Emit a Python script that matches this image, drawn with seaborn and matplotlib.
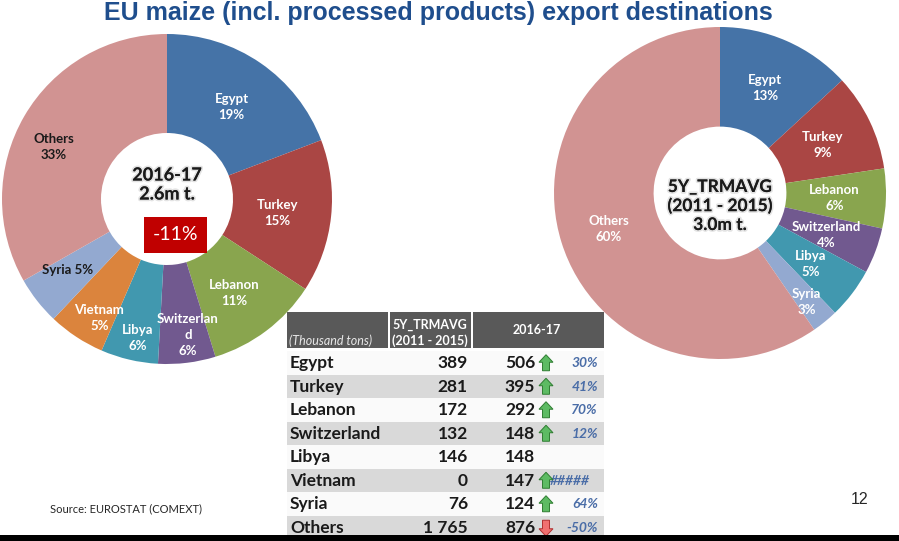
import numpy as np
import matplotlib
matplotlib.use("Agg")
import matplotlib.pyplot as plt
import matplotlib.patches as mpatches
import matplotlib.patheffects as pe
import seaborn as sns

# ---------------- data ----------------
countries = ["Egypt", "Turkey", "Lebanon", "Switzerland", "Libya", "Vietnam", "Syria", "Others"]
avg_2011_2015 = [389, 281, 172, 132, 146, 0, 76, 1765]       # thousand tons
season_2016_17 = [506, 395, 292, 148, 148, 147, 124, 876]    # thousand tons
share_2016_17 = [19, 15, 11, 6, 6, 5, 5, 33]                 # % labels as shown
share_avg = [13, 9, 6, 4, 5, 0, 3, 60]                       # % labels as shown
change_labels = ["30%", "41%", "70%", "12%", "", "#####", "64%", "-50%"]
change_dir = [1, 1, 1, 1, 0, 1, 1, -1]
left_names = ["Egypt", "Turkey", "Lebanon", "Switzerlan\nd", "Libya", "Vietnam", "Syria", "Others"]
title = "EU maize (incl. processed products) export destinations"

# ---------------- style ----------------
sns.set_theme(style="white")
plt.rcParams["font.family"] = ["Lato", "DejaVu Sans"]
colors = sns.color_palette(["#4573A7", "#AA4644", "#89A54E", "#71598F",
                            "#4198AF", "#DB843D", "#93A9D0", "#D19392"])

W, H = 899, 541
fig = plt.figure(figsize=(W / 100, H / 100), dpi=100)
fig.patch.set_facecolor("white")

def px_axes(cx, cy, r, z):
    ax = fig.add_axes([(cx - r) / W, (H - cy - r) / H, 2 * r / W, 2 * r / H], zorder=z)
    return ax

overlay = fig.add_axes([0, 0, 1, 1], zorder=5)
overlay.set_xlim(0, W)
overlay.set_ylim(H, 0)
overlay.axis("off")
overlay.patch.set_alpha(0)

glow = [pe.withStroke(linewidth=2.5, foreground=(0.5, 0.5, 0.5, 0.22))]

def donut(cx, cy, r, values, names, shares, seps, label_colors, nudges):
    ax = px_axes(cx, cy, r, 1)
    wedges, _ = ax.pie(values, colors=colors, startangle=90, counterclock=False,
                       radius=1.0, wedgeprops=dict(width=0.6, linewidth=0))
    ax.set_xlim(-1, 1)
    ax.set_ylim(-1, 1)
    ax.set_aspect("equal")
    ax.axis("off")
    for w, v, n, s, sep, c, (nx, ny) in zip(wedges, values, names, shares, seps,
                                            label_colors, nudges):
        if v == 0:
            continue
        a = np.deg2rad((w.theta1 + w.theta2) / 2)
        x = 0.69 * np.cos(a) + nx / r
        y = 0.69 * np.sin(a) - ny / r
        ax.text(x, y, f"{n}{sep}{s}%", ha="center", va="center", color=c,
                fontsize=9.5, fontweight="bold", linespacing=1.4)
    return ax

# left donut (2016-17)
left_seps = ["\n"] * 6 + [" ", "\n"]
left_cols = ["white"] * 6 + ["#1a1a1a", "#1a1a1a"]
left_nudge = [(0, 2), (-3, 2), (-1, 3), (7, 23), (-3, 28), (-5, 24), (-10, 1), (-15, 5)]
donut(167, 199, 165, season_2016_17, left_names, share_2016_17, left_seps, left_cols, left_nudge)

# right donut (5Y average)
right_seps = ["\n"] * 8
right_cols = ["white"] * 8
right_nudge = [(-1, 0), (-1, 2), (0, 1), (-1, 2), (0, 2), (0, 0), (14, 20), (-2, 2)]
donut(720, 193, 166, avg_2011_2015, countries, share_avg, right_seps, right_cols, right_nudge)

tot_new = sum(season_2016_17)
tot_avg = sum(avg_2011_2015)
chg = (tot_new - tot_avg) / tot_avg * 100

# centre texts
overlay.text(167, 175, "2016-17", ha="center", va="center", fontsize=13, fontweight="bold",
             color="#1a1a1a", path_effects=glow)
overlay.text(167, 194, f"{tot_new/1000:.1f}m t.", ha="center", va="center", fontsize=13,
             fontweight="bold", color="#1a1a1a", path_effects=glow)
overlay.add_patch(mpatches.Rectangle((144, 217), 63, 36, facecolor="#C00000", edgecolor="none"))
overlay.text(175.5, 235, f"{chg:.0f}%", ha="center", va="center", fontsize=14, color="white")

overlay.text(720, 187, "5Y_TRMAVG", ha="center", va="center", fontsize=12.5, fontweight="bold",
             color="#1a1a1a", path_effects=glow)
overlay.text(720, 206, "(2011 - 2015)", ha="center", va="center", fontsize=12.5, fontweight="bold",
             color="#1a1a1a", path_effects=glow)
overlay.text(720, 225, f"{tot_avg/1000:.1f}m t.", ha="center", va="center", fontsize=12.5,
             fontweight="bold", color="#1a1a1a", path_effects=glow)

# title
overlay.text(438, 13, title, ha="center", va="center", fontsize=18, fontweight="bold",
             color="#1F4E8D", family="Liberation Sans")

# ---------------- table ----------------
hdr_col = "#595959"
x0, x1, x2, x3 = 287, 389, 472, 604
for a, b in [(x0, x1 - 1), (x1 + 1, x2 - 1), (x2 + 1, x3)]:
    overlay.add_patch(mpatches.Rectangle((a, 312), b - a, 36, facecolor=hdr_col, edgecolor="none"))
overlay.text(392, 325, "5Y_TRMAVG", ha="left", va="center", fontsize=9, fontweight="bold", color="white")
overlay.text(392, 341, "(2011 - 2015)", ha="left", va="center", fontsize=9, fontweight="bold", color="white")
overlay.text(289, 341, "(Thousand tons)", ha="left", va="center", fontsize=9, style="italic", color="#e6e6e6")
overlay.text(537, 330, "2016-17", ha="center", va="center", fontsize=9, fontweight="bold", color="white")

top, rh = 351, 23.5
for i, (c, a, n, lab, d) in enumerate(zip(countries, avg_2011_2015, season_2016_17,
                                         change_labels, change_dir)):
    yt = top + i * rh
    yc = yt + rh / 2 + 0.5
    overlay.add_patch(mpatches.Rectangle((x0, yt), x3 - x0, rh,
                                         facecolor="#D9D9D9" if i % 2 else "#FAFAFA",
                                         edgecolor="none"))
    overlay.text(290, yc, c, ha="left", va="center", fontsize=12.5, fontweight="bold", color="#1a1a1a")
    overlay.text(468, yc, f"{a:,}".replace(",", " "), ha="right", va="center", fontsize=12.5,
                 fontweight="bold", color="#1a1a1a")
    overlay.text(535, yc, f"{n:,}".replace(",", " "), ha="right", va="center", fontsize=12.5,
                 fontweight="bold", color="#1a1a1a")
    if lab:
        overlay.text(598 if lab != "#####" else 590, yc, lab, ha="right", va="center",
                     fontsize=10, style="italic", fontweight="bold", color="#4A6DA7", zorder=3)
    if d != 0:
        ax_ = 546
        if d > 0:
            pts = [(ax_, yc - 8.5), (ax_ - 7, yc - 1), (ax_ - 3.5, yc - 1), (ax_ - 3.5, yc + 7.5),
                   (ax_ + 3.5, yc + 7.5), (ax_ + 3.5, yc - 1), (ax_ + 7, yc - 1)]
            fc, ec = "#5DBB63", "#2F7D32"
        else:
            pts = [(ax_, yc + 8.5), (ax_ - 7, yc + 1), (ax_ - 3.5, yc + 1), (ax_ - 3.5, yc - 7.5),
                   (ax_ + 3.5, yc - 7.5), (ax_ + 3.5, yc + 1), (ax_ + 7, yc + 1)]
            fc, ec = "#F07070", "#B03030"
        overlay.add_patch(mpatches.Polygon(pts, closed=True, facecolor=fc, edgecolor=ec,
                                           linewidth=0.7, zorder=4))

# footer
overlay.add_patch(mpatches.Rectangle((0, 535), W, 6, facecolor="black", edgecolor="none", zorder=6))
overlay.text(50, 509, "Source: EUROSTAT (COMEXT)", ha="left", va="center", fontsize=8, color="#262626")
overlay.text(860, 500, "12", ha="center", va="center", fontsize=11.5, color="#262626",
             family="Liberation Sans")

fig.savefig("out.png", dpi=100, facecolor="white")
